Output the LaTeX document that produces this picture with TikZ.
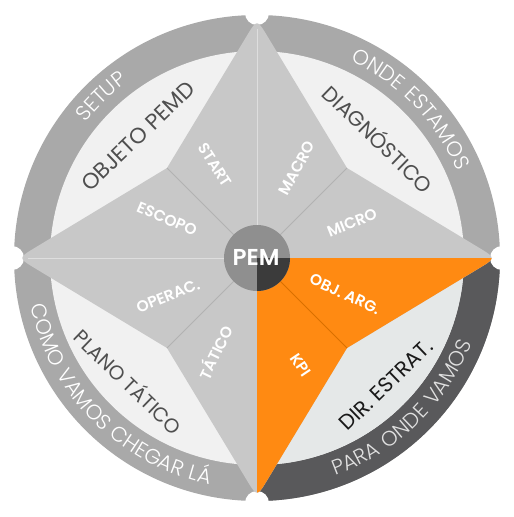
\documentclass[tikz,border=0pt]{standalone}
\usepackage{fontspec}
\usetikzlibrary{calc,decorations.text}
\IfFontExistsTF{Poppins Light}{\newfontfamily\ringfont{Poppins Light}[LetterSpace=6]}{\newfontfamily\ringfont{Poppins}[LetterSpace=6]}
\IfFontExistsTF{Poppins SemiBold}{\newfontfamily\semib{Poppins SemiBold}}{\IfFontExistsTF{Poppins Bold}{\newfontfamily\semib{Poppins Bold}}{\newfontfamily\semib{Poppins}}}
\newfontfamily\regfont{Poppins}
\definecolor{ringgray}{HTML}{A9A9A9}
\definecolor{ringdark}{HTML}{59595B}
\definecolor{lightreg}{HTML}{F1F1F1}
\definecolor{lightregb}{HTML}{E5E8E8}
\definecolor{stargray}{HTML}{C8C8C8}
\definecolor{orng}{HTML}{FF8A12}
\definecolor{orngline}{HTML}{D97000}
\definecolor{hubgray}{HTML}{8F8F8F}
\definecolor{hubdark}{HTML}{3B3B3B}
\definecolor{innertext}{HTML}{4F4F4F}
\definecolor{divgray}{HTML}{B2B2B2}
\def\starpath{($(T)!20pt!(KTL)$) .. controls (T) .. ($(T)!20pt!(KTR)$) -- (KTR) -- ($(R)!20pt!(KTR)$) .. controls (R) .. ($(R)!20pt!(KBR)$) -- (KBR) -- ($(B)!20pt!(KBR)$) .. controls (B) .. ($(B)!20pt!(KBL)$) -- (KBL) -- ($(L)!20pt!(KBL)$) .. controls (L) .. ($(L)!20pt!(KTL)$) -- (KTL) -- cycle}
\begin{document}
\begin{tikzpicture}[x=1pt,y=1pt,
  starlabel/.style={text=white, font=\semib\fontsize{15.5}{16}\selectfont, inner sep=0pt},
  innerlabel/.style={text=innertext, font=\regfont\fontsize{21}{22}\selectfont, inner sep=0pt},
  divline/.style={draw=divgray, line width=0.9pt},
  axisline/.style={draw=white, opacity=0.4, line width=0.8pt}]
\useasboundingbox (0,0) rectangle (514,-517);
\coordinate (C) at (257,-258);
\coordinate (T) at (257,-19);
\coordinate (R) at (496,-258);
\coordinate (B) at (257,-497);
\coordinate (L) at (18,-258);
\coordinate (KTL) at (167,-168);
\coordinate (KTR) at (347,-168);
\coordinate (KBR) at (347,-348);
\coordinate (KBL) at (167,-348);
% ring
\fill[ringgray] (C) circle[radius=243pt];
\fill[ringdark] (C) -- ($(C)+(0:243pt)$) arc[start angle=0,end angle=-90,radius=243pt] -- cycle;
\fill[lightreg] (C) circle[radius=207pt];
\fill[lightregb] (C) -- ($(C)+(0:207pt)$) arc[start angle=0,end angle=-90,radius=207pt] -- cycle;
\foreach \a in {90,0,-90,180} \fill[white] ($(C)+(\a:245pt)$) circle[radius=12pt];
% star
\fill[stargray] \starpath;
\begin{scope}
\clip (C) rectangle (514,-517);
\fill[orng] \starpath;
\end{scope}
\draw[axisline] (C) -- ($(T)!10pt!(C)$);
\draw[axisline] (C) -- ($(L)!10pt!(C)$);
\draw[divline] (C) -- (KTL);
\draw[divline] (C) -- (KTR);
\draw[divline] (C) -- (KBL);
\draw[draw=orngline, line width=0.9pt] (C) -- (KBR);
% hub
\fill[hubgray] (C) circle[radius=33pt];
\fill[hubdark] (C) -- ($(C)+(0:33pt)$) arc[start angle=0,end angle=-90,radius=33pt] -- cycle;
\node[text=white, font=\semib\fontsize{23}{24}\selectfont, inner sep=0pt] (pem) at (256,-257) {PEM};
% star labels
\node[starlabel, rotate=-57] (start) at (215,-165) {START};
\node[starlabel, rotate=-23] (escopo) at (167,-219) {ESCOPO};
\node[starlabel, rotate=62] (macro) at (297,-168) {MACRO};
\node[starlabel, rotate=22] (micro) at (352,-223) {MICRO};
\node[starlabel, rotate=22] (operac) at (168,-296) {OPERAC.};
\node[starlabel, rotate=64] (tatico) at (215,-352) {TÁTICO};
\node[starlabel, rotate=-25] (objarg) at (345,-294) {OBJ. ARG.};
\node[starlabel, rotate=-56] (kpi) at (301,-365) {KPI};
% inner labels
\node[innerlabel, rotate=44, font=\regfont\fontsize{22}{23}\selectfont] (objeto) at (138,-136) {OBJETO PEMD};
\node[innerlabel, rotate=-44] (diag) at (379,-138) {DIAGNÓSTICO};
\node[innerlabel, rotate=-44, font=\regfont\fontsize{20}{21}\selectfont] (plano) at (129,-381) {PLANO TÁTICO};
\node[innerlabel, rotate=44, text=black!90] (dir) at (386,-385) {DIR. ESTRAT.};
% ring texts
\path[decorate, decoration={text along path, text align=center,
  text={|\ringfont\fontsize{21}{21}\selectfont\color{white}|SETUP}}]
  ($(C)+(174:218.5pt)$) arc[start angle=174, end angle=94, radius=218.5pt];
\path[decorate, decoration={text along path, text align=center,
  text={|\ringfont\fontsize{21}{21}\selectfont\color{white}|ONDE ESTAMOS}}]
  ($(C)+(94:218.5pt)$) arc[start angle=94, end angle=-6, radius=218.5pt];
\path[decorate, decoration={text along path, text align=center,
  text={|\ringfont\fontsize{21}{21}\selectfont\color{white}|COMO VAMOS CHEGAR LÁ}}]
  ($(C)+(175:231.5pt)$) arc[start angle=175, end angle=275, radius=231.5pt];
\path[decorate, decoration={text along path, text align=center,
  text={|\ringfont\fontsize{21}{21}\selectfont\color{black!12}|PARA ONDE VAMOS}}]
  ($(C)+(265:231.5pt)$) arc[start angle=265, end angle=363, radius=231.5pt];
\end{tikzpicture}
\end{document}
